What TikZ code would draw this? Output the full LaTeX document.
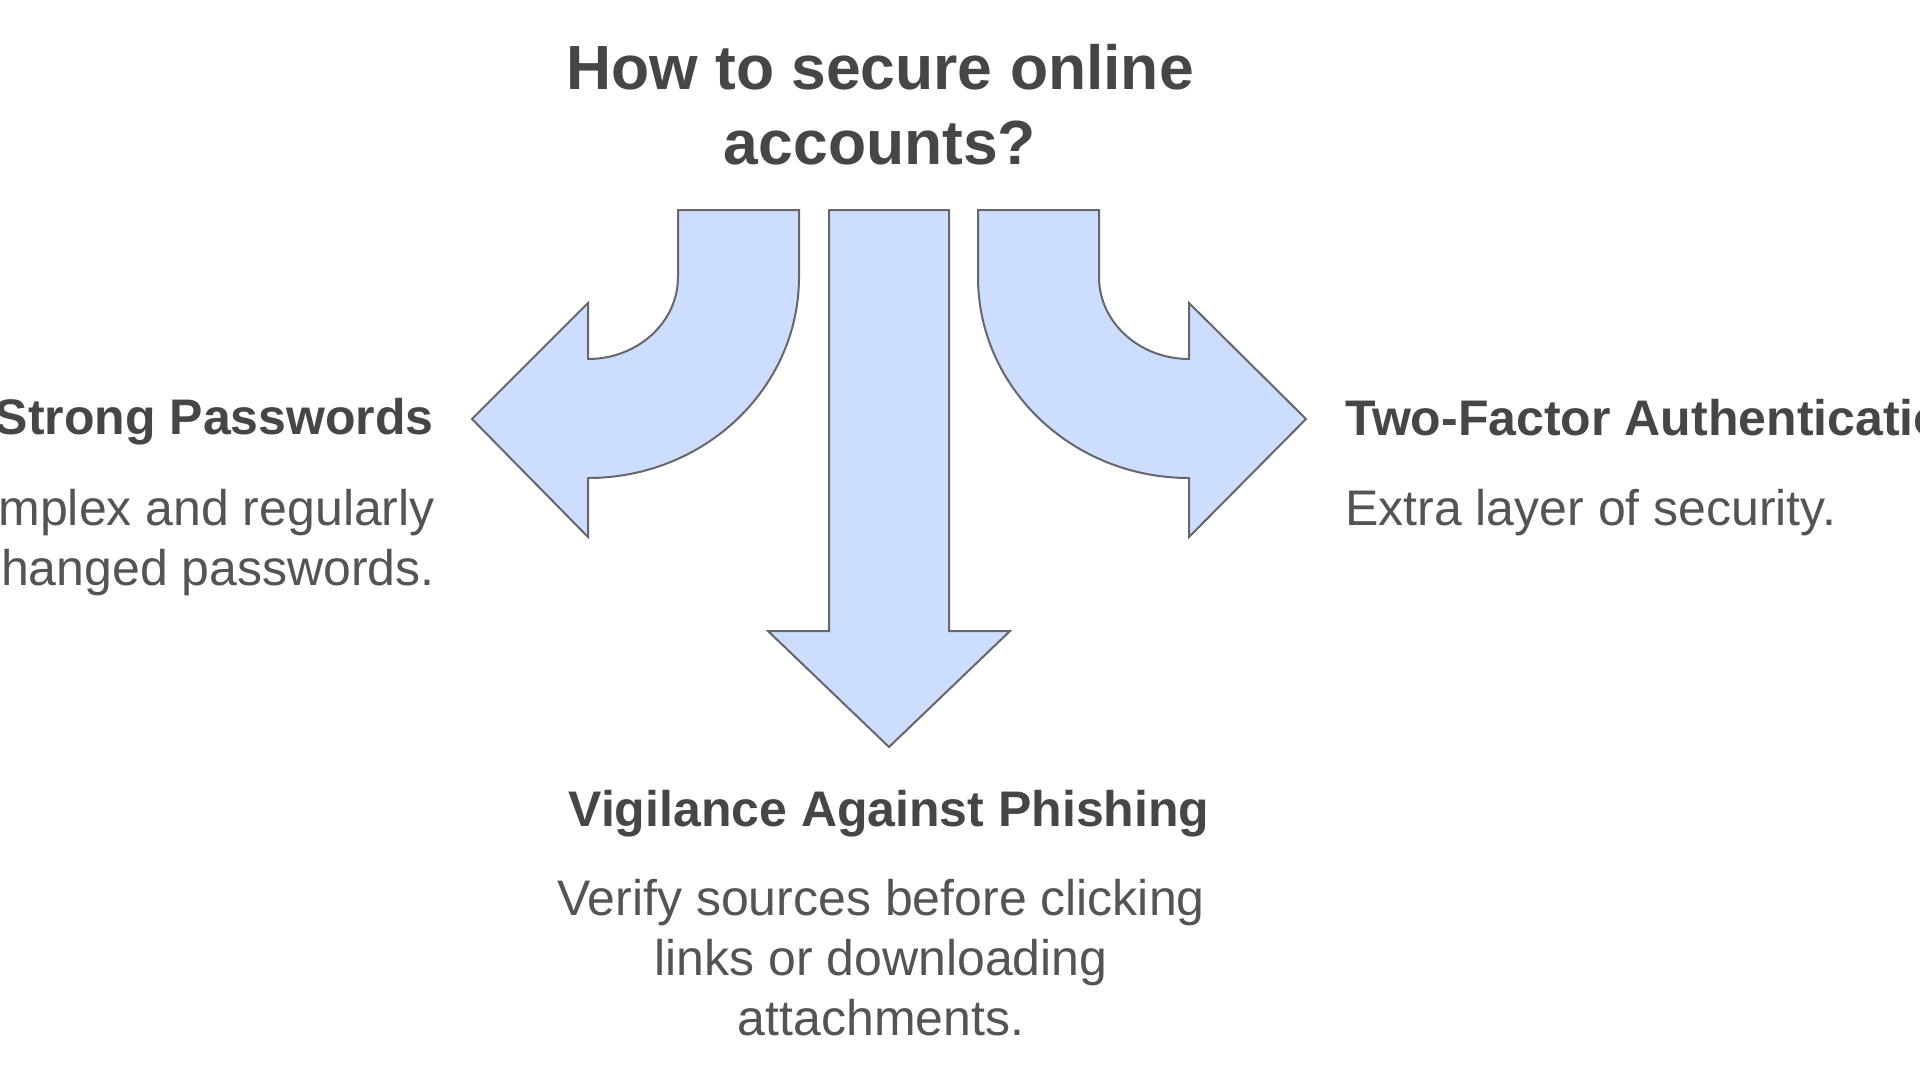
\documentclass[tikz,border=0pt]{standalone}
\usepackage{fontspec}
\setmainfont{Liberation Sans}
\definecolor{arrowfill}{RGB}{204,221,254}
\definecolor{arrowline}{RGB}{102,102,108}
\definecolor{txtgray}{RGB}{70,70,70}
\definecolor{bodygray}{RGB}{84,84,84}

\begin{document}
\begin{tikzpicture}[x=1pt, y=-1pt,
    bigarrow/.style={fill=arrowfill, draw=arrowline, line width=2pt, line join=miter},
    titletext/.style={text=txtgray, font=\fontsize{62.4}{75}\selectfont\bfseries, align=center, inner sep=0pt},
    headtext/.style={text=txtgray, font=\fontsize{50}{60}\selectfont\bfseries, inner sep=0pt},
    bodytext/.style={text=bodygray, font=\fontsize{50}{60}\selectfont, inner sep=0pt}]
    \useasboundingbox (0,0) rectangle (1920,1080);
    \fill[white] (0,0) rectangle (1920,1080);

    \node[titletext, anchor=north] (question) at (880,44) {How to secure online\\accounts?};

    \draw[bigarrow] (678,210) -- (799,210) -- (799,277)
        arc[start angle=0, end angle=90, x radius=211, y radius=201]
        -- (588,537) -- (472,419) -- (588,303) -- (588,359)
        arc[start angle=90, end angle=0, x radius=90, y radius=82] -- cycle;

    \draw[bigarrow] (829,210) -- (949,210) -- (949,631) -- (1010,631)
        -- (889,747) -- (768,631) -- (829,631) -- cycle;

    \draw[bigarrow] (1099,210) -- (978,210) -- (978,277)
        arc[start angle=180, end angle=90, x radius=211, y radius=201]
        -- (1189,537) -- (1306,419) -- (1189,303) -- (1189,359)
        arc[start angle=90, end angle=180, x radius=90, y radius=82] -- cycle;

    \node[headtext, anchor=base east] (strong) at (434,434) {Strong Passwords};
    \node[bodytext, anchor=north east, align=right] (strongtxt) at (435,489) {Complex and regularly\\changed passwords.};

    \node[headtext, anchor=base west] (twofactor) at (1345,435) {Two-Factor Authentication};
    \node[bodytext, anchor=base west] (twofactortxt) at (1345,525) {Extra layer of security.};

    \node[headtext, anchor=base] (phishing) at (889,826) {Vigilance Against Phishing};
    \node[bodytext, anchor=north, align=center] (phishingtxt) at (881,879) {Verify sources before clicking\\links or downloading\\attachments.};
\end{tikzpicture}
\end{document}
